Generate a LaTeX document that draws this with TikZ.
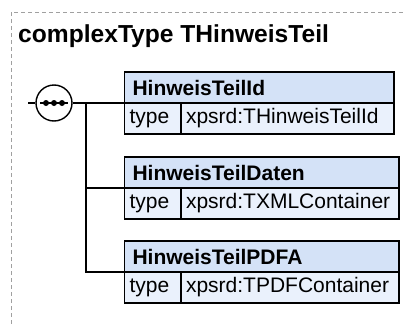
\documentclass[tikz,border=0pt]{standalone}
\usepackage{fontspec}
\setmainfont{Liberation Sans}
\usetikzlibrary{calc}

\definecolor{headblue}{RGB}{212,226,247}
\definecolor{rowblue}{RGB}{234,241,252}
\definecolor{framegray}{RGB}{160,160,160}

\begin{document}
\begin{tikzpicture}[x = 1pt, y = -1pt]
				\tikzset{head/.style = {draw, fill = headblue, line width = 1.4pt, anchor = north west, outer sep = 0pt, inner xsep = 8pt, inner ysep = 0pt, minimum height = 31pt, align = left, font = \fontsize{21}{23}\selectfont\bfseries}}
				\tikzset{cell/.style = {draw, fill = rowblue, line width = 1.4pt, anchor = north west, outer sep = 0pt, inner xsep = 5pt, inner ysep = 0pt, minimum height = 31pt, align = left, font = \fontsize{21}{23}\selectfont}}
				\tikzset{seqcirc/.style = {shape = circle, draw, fill = white, line width = 1.4pt, minimum size = 36pt, inner sep = 0pt}}
				\tikzset{frame/.style = {framegray, line width = 1pt, dash pattern = on 4pt off 3pt}}
				\newcommand\boxx{124.5}
				\useasboundingbox (0,0) rectangle (403,324);
				\draw[frame] (11,324) |- (403,12);
				\node[anchor = base west, inner sep = 0pt, font = \fontsize{24.6}{28}\selectfont\bfseries] (title) at (18,42) {complexType THinweisTeil};
				\node[seqcirc] (seq) at (54,103) {};
				\draw[line width = 1.6pt] ($(seq)+(-14,0)$) -- ($(seq)+(14,0)$);
				\foreach \d in {-8, 0, 8}{
					\fill ($(seq)+(\d,0)$) circle (3);
				}
				\foreach \i/\y/\w/\name/\type in {1/72/253.5/HinweisTeilId/THinweisTeilId,
					2/157/258.5/HinweisTeilDaten/TXMLContainer,
					3/241/258.5/HinweisTeilPDFA/TPDFContainer}{
					\pgfmathsetmacro\vw{\w-50.5}
					\node[head, text width = \w pt] (h\i) at (\boxx,\y) {\name};
					\node[cell, text width = 46.5pt] (t\i) at (h\i.south west) {type};
					\node[cell, text width = \vw pt] (v\i) at (t\i.north east) {xpsrd:\type};
				}
				\coordinate (in) at (28,103);
				\coordinate (fork) at (86,103);
				\draw[line width = 1.4pt] (in) to (seq.west);
				\draw[line width = 1.4pt] (seq.east) to (h1.south west);
				\draw[line width = 1.4pt] (fork) |- (h2.south west);
				\draw[line width = 1.4pt] (fork) |- (h3.south west);
			\end{tikzpicture}
\end{document}
